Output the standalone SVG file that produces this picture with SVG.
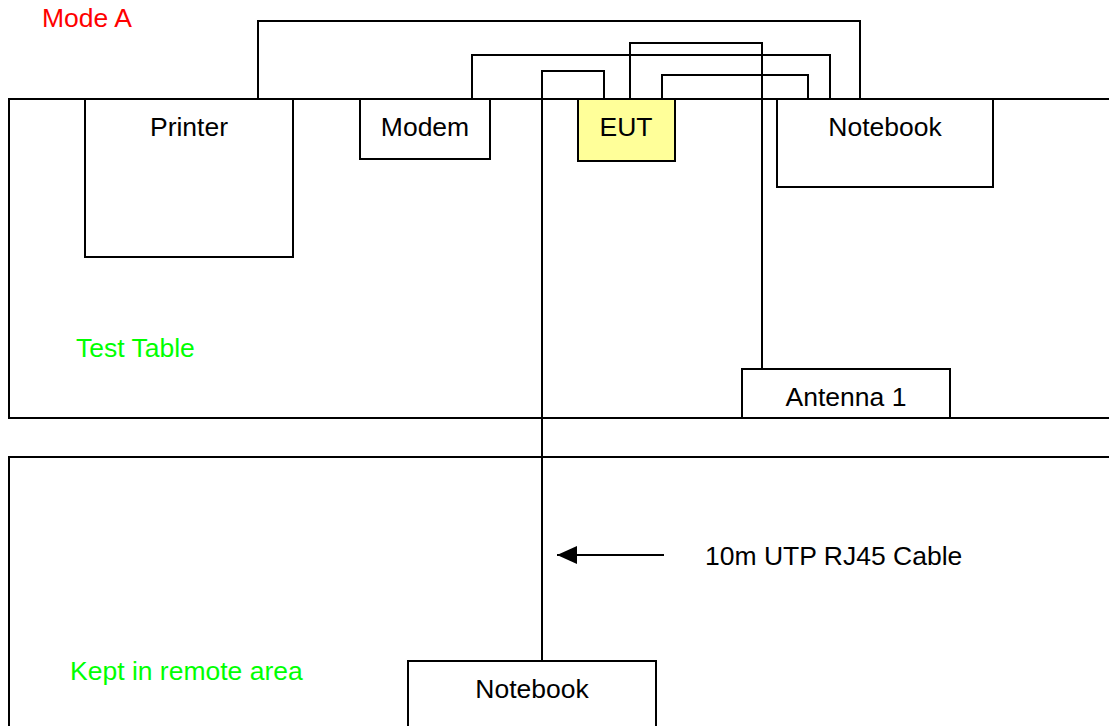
<svg xmlns="http://www.w3.org/2000/svg" width="1109" height="726" viewBox="0 0 1109 726">
<defs>
<style>
.box{fill:#fff;stroke:#000;stroke-width:2}
.area{fill:none;stroke:#000;stroke-width:2}
.w{fill:none;stroke:#000;stroke-width:2}
.t{font-family:"Liberation Sans",Arial,sans-serif;font-size:26.5px;fill:#000;text-anchor:middle}
.g{font-family:"Liberation Sans",Arial,sans-serif;font-size:26.5px;fill:#00ff00}
.r{font-family:"Liberation Sans",Arial,sans-serif;font-size:26.5px;fill:#ff0000}
.l{font-family:"Liberation Sans",Arial,sans-serif;font-size:26.5px;fill:#000}
</style>
<marker id="arr" viewBox="0 0 20 20" markerWidth="20" markerHeight="20" refX="20" refY="10" orient="auto" markerUnits="userSpaceOnUse"><path d="M0,1 L20,10 L0,19 z" fill="#000"/></marker>
</defs>
<rect width="1109" height="726" fill="#fff"/>
<text class="r" x="42" y="27">Mode A</text>
<g id="test-table">
<rect class="area" x="9" y="99" width="1110" height="319"/>
<text class="g" x="76" y="357">Test Table</text>
</g>
<g id="remote-area">
<rect class="area" x="9" y="457" width="1110" height="280"/>
<text class="g" x="70" y="680">Kept in remote area</text>
</g>
<g id="connectors">
<polyline class="w" points="258,99 258,21 860,21 860,99"/>
<polyline class="w" points="472,99 472,55 830,55 830,99"/>
<polyline class="w" points="542,661 542,71 604,71 604,99"/>
<polyline class="w" points="630,99 630,43 762,43 762,369"/>
<polyline class="w" points="662,99 662,75 808,75 808,99"/>
<line class="w" x1="664" y1="555" x2="557" y2="555" marker-end="url(#arr)"/>
</g>
<g id="printer">
<rect class="box" x="85" y="99" width="208" height="158"/>
<text class="t" x="189" y="136">Printer</text>
</g>
<g id="modem">
<rect class="box" x="360" y="99" width="130" height="60"/>
<text class="t" x="425" y="136">Modem</text>
</g>
<g id="eut">
<rect class="box" x="578" y="99" width="97" height="62" style="fill:#ffff99"/>
<text class="t" x="626" y="136">EUT</text>
</g>
<g id="notebook-local">
<rect class="box" x="777" y="99" width="216" height="88"/>
<text class="t" x="885" y="136">Notebook</text>
</g>
<g id="antenna">
<rect class="box" x="742" y="369" width="208" height="49"/>
<text class="t" x="846" y="406">Antenna 1</text>
</g>
<g id="notebook-remote">
<rect class="box" x="408" y="661" width="248" height="80"/>
<text class="t" x="532" y="698">Notebook</text>
</g>
<text class="l" x="705" y="565">10m UTP RJ45 Cable</text>
</svg>
